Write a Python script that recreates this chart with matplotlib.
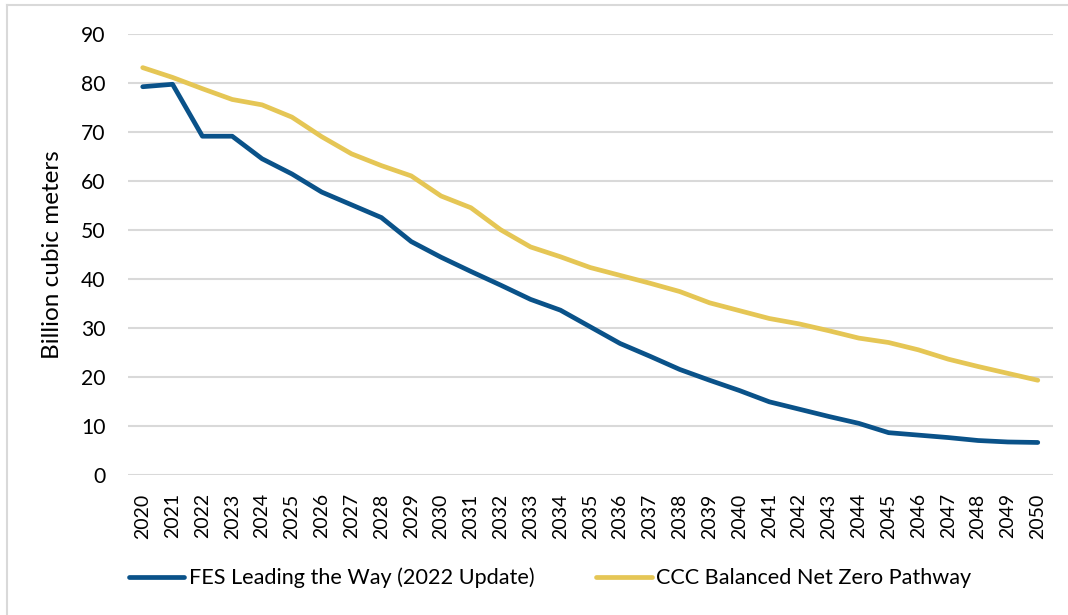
import matplotlib
matplotlib.use("Agg")
import matplotlib.pyplot as plt
from matplotlib.lines import Line2D

years = list(range(2020, 2051))
fes = [79.3, 79.8, 69.2, 69.2, 64.6, 61.5, 57.8, 55.2, 52.6, 47.7, 44.5, 41.6, 38.8, 35.9,
       33.7, 30.3, 26.9, 24.3, 21.6, 19.4, 17.3, 15.0, 13.5, 12.0, 10.6, 8.7, 8.2, 7.7, 7.1, 6.8, 6.7]
ccc = [83.2, 81.2, 78.9, 76.7, 75.6, 73.1, 69.1, 65.6, 63.2, 61.1, 57.0, 54.6, 50.1, 46.6,
       44.6, 42.4, 40.8, 39.2, 37.5, 35.2, 33.6, 32.0, 30.9, 29.5, 28.0, 27.1, 25.6, 23.7, 22.2, 20.8, 19.4]
series_names = ["FES Leading the Way (2022 Update)", "CCC Balanced Net Zero Pathway"]
y_ticks = [0, 10, 20, 30, 40, 50, 60, 70, 80, 90]
y_label = "Billion cubic meters"

plt.rcParams['font.family'] = ['Lato', 'DejaVu Sans']
W, H = 1068, 615
fig = plt.figure(figsize=(W / 100, H / 100), dpi=100)
ax = fig.add_axes([127.8 / W, 1 - 475.3 / H, (1052.7 - 127.8) / W, (475.3 - 34.3) / H])

blue = "#0A5289"
gold = "#E5C655"
ax.plot(years, fes, color=blue, lw=3.4, solid_capstyle='round', solid_joinstyle='round',
        label=series_names[0], zorder=3)
ax.plot(years, ccc, color=gold, lw=3.4, solid_capstyle='round', solid_joinstyle='round',
        label=series_names[1], zorder=3)

ax.set_xlim(2019.5, 2050.5)
ax.set_ylim(0, 90)
ax.set_yticks(y_ticks)
ax.set_xticks(years)
ax.set_xticklabels([str(y) for y in years], rotation=90, fontsize=14)
ax.tick_params(axis='y', labelsize=15.2, length=0, pad=16)
ax.tick_params(axis='x', length=0, pad=13)
ax.grid(axis='y', color="#D9D9D9", lw=1.5)
ax.set_axisbelow(True)
for s in ax.spines.values():
    s.set_visible(False)
ax.set_ylabel(y_label, fontsize=17.5, labelpad=13)

fig.legend(loc='center', bbox_to_anchor=(550 / W, 1 - 578 / H), ncol=2, frameon=False,
           fontsize=15.6, handlelength=2.57, handletextpad=0.2, columnspacing=2.85)

# figure border (top and left visible)
fig.add_artist(Line2D([7 / W, 1], [1 - 5 / H, 1 - 5 / H], transform=fig.transFigure,
                      color="#D9D9D9", lw=1.5))
fig.add_artist(Line2D([7 / W, 7 / W], [0, 1 - 5 / H], transform=fig.transFigure,
                      color="#D9D9D9", lw=1.5))

fig.savefig("out.png", dpi=100)
